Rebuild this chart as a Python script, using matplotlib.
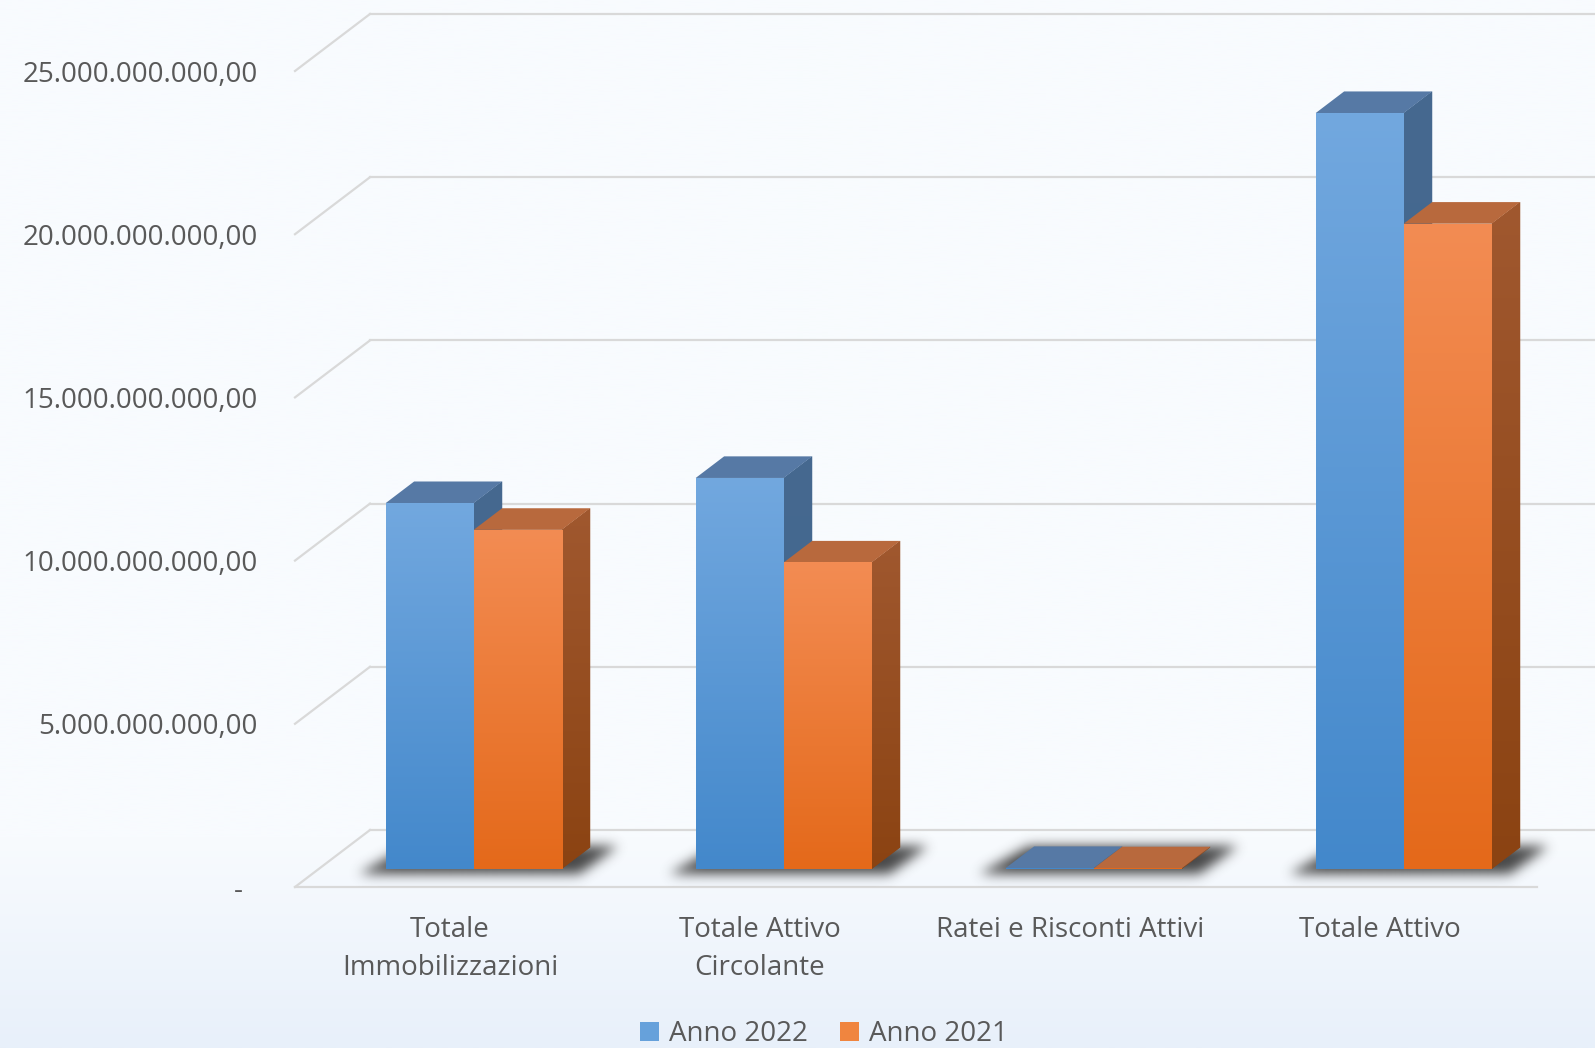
import numpy as np
import matplotlib
matplotlib.use('Agg')
import matplotlib.pyplot as plt
from matplotlib.patches import Polygon, Patch
from matplotlib.path import Path
from matplotlib.ticker import FuncFormatter
from matplotlib.colors import to_rgb

plt.rcParams['font.family'] = ['Open Sans', 'DejaVu Sans']

# data
categories = ['Totale\nImmobilizzazioni', 'Totale Attivo\nCircolante',
              'Ratei e Risconti Attivi', 'Totale Attivo']
anno_2022 = [11.21e9, 11.98e9, 0.03e9, 23.16e9]
anno_2021 = [10.39e9, 9.39e9, 0.02e9, 19.77e9]
series_labels = ['Anno 2022', 'Anno 2021']
yticks = [0, 5e9, 10e9, 15e9, 20e9, 25e9]

TEXT = '#595959'
GRID = '#D9D9D9'

# geometry of the fake 3d (pixels -> data units)
PX_X = 310.0            # px per category
PX_Y = 32.64 / 1e9      # px per unit value
DX = 75 / PX_X          # full depth offset
DY = 57 / PX_Y
T0, T1 = 0.316, 0.695   # bar depth range
W = 88 / PX_X           # bar width

fig = plt.figure(figsize=(15.95, 10.48), dpi=100)

# background gradient
bg = fig.add_axes([0, 0, 1, 1], zorder=-10)
rows = np.linspace(0, 1, 400)
top_c = np.array(to_rgb('#F8FBFE'))
bot_c = np.array(to_rgb('#E8F0FA'))
f = np.clip((rows - 0.80) / 0.20, 0, 1)[:, None]
grad = top_c * (1 - f) + bot_c * f
bg.imshow(grad[:, None, :], aspect='auto', extent=[0, 1, 0, 1], origin='upper')
bg.axis('off')

ax = fig.add_axes([295 / 1595, (1048 - 887) / 1048, 1300 / 1595, 887 / 1048])
ax.set_facecolor('none')
xlim = (-0.5, -0.5 + 1300 / PX_X)
ylim = (0, 887 / PX_Y)

# walls / grid
for v in yticks:
    ax.plot([-0.5 + DX, xlim[1] + 0.1], [v + DY, v + DY], color=GRID, lw=1.6, zorder=1, clip_on=False)
    ax.plot([-0.5, -0.5 + DX], [v, v + DY], color=GRID, lw=1.6, zorder=1, clip_on=False)
ax.plot([-0.5, 3.506], [0, 0], color=GRID, lw=1.6, zorder=1, clip_on=False)


def blur(a, s):
    k = np.arange(-3 * s, 3 * s + 1)
    ker = np.exp(-0.5 * (k / s) ** 2)
    ker /= ker.sum()
    a = np.apply_along_axis(lambda r: np.convolve(r, ker, mode='same'), 0, a)
    a = np.apply_along_axis(lambda r: np.convolve(r, ker, mode='same'), 1, a)
    return a


def shadow(c, z):
    # soft shadow on the floor under each pair of bars
    ex = 28 / PX_X
    poly = [(c + T0 * DX - W - ex, (T0 - 0.1) * DY),
            (c + T0 * DX + W + ex * 0.6, (T0 - 0.1) * DY),
            (c + T1 * DX + W + ex, (T1 + 0.03) * DY),
            (c + T1 * DX - W - ex * 0.2, (T1 + 0.03) * DY)]
    x0 = c - 0.55
    x1 = c + 0.75
    y0 = 0.0
    y1 = 70 / PX_Y
    nx = int((x1 - x0) * PX_X)
    ny = int((y1 - y0) * PX_Y)
    gx = np.linspace(x0, x1, nx)
    gy = np.linspace(y0, y1, ny)
    XX, YY = np.meshgrid(gx, gy)
    inside = Path(poly).contains_points(np.c_[XX.ravel(), YY.ravel()]).reshape(ny, nx)
    a = blur(inside.astype(float), 6)
    img = np.zeros((ny, nx, 4))
    img[..., :3] = 0.2
    img[..., 3] = np.clip(a * 0.9, 0, 1)
    ax.imshow(img, extent=[x0, x1, y0, y1], origin='lower', aspect='auto',
              zorder=z, interpolation='bilinear')


def grad_fill(patch, x0, x1, y0, y1, c_top, c_bot, z):
    t = np.linspace(0, 1, 256)[:, None]
    g = np.array(to_rgb(c_bot)) * (1 - t) + np.array(to_rgb(c_top)) * t
    im = ax.imshow(g[:, None, :], extent=[x0, x1, y0, y1], origin='lower',
                   aspect='auto', zorder=z, interpolation='bilinear')
    im.set_clip_path(patch)


def box(xl, val, cols, z):
    front_top, front_bot, top_col, side_top, side_bot = cols
    y0 = T0 * DY
    ddx = (T1 - T0) * DX
    ddy = (T1 - T0) * DY
    # side
    side = Polygon([(xl + W, y0), (xl + W + ddx, y0 + ddy), (xl + W + ddx, y0 + ddy + val), (xl + W, y0 + val)],
                   closed=True, facecolor=side_bot, edgecolor='none', zorder=z)
    ax.add_patch(side)
    grad_fill(side, xl + W, xl + W + ddx, y0, y0 + ddy + val, side_top, side_bot, z + 0.1)
    # top
    top = Polygon([(xl, y0 + val), (xl + W, y0 + val), (xl + W + ddx, y0 + val + ddy), (xl + ddx, y0 + val + ddy)],
                  closed=True, facecolor=top_col, edgecolor='none', zorder=z + 0.2)
    ax.add_patch(top)
    # front
    bars = ax.bar(xl, val, width=W, bottom=y0, align='edge', color=front_bot, zorder=z + 0.3, linewidth=0)
    if val > 0.2e9:
        grad_fill(bars[0], xl, xl + W, y0, y0 + val, front_top, front_bot, z + 0.4)


blue_cols = ('#72A8DF', '#4388CB', '#5679A5', '#46698F', '#3F6790')
orange_cols = ('#F38C53', '#E4691A', '#B8693D', '#A0582F', '#8B4312')

for i in range(len(categories)):
    z = 3 + i * 2
    shadow(i, 2)
    xl = i + T0 * DX - W
    box(xl, anno_2022[i], blue_cols, z)
    box(xl + W, anno_2021[i], orange_cols, z + 1)

ax.set_xlim(*xlim)
ax.set_ylim(*ylim)


def it_fmt(v, pos):
    if v == 0:
        return '-  '
    s = f'{v:,.2f}'
    return s.replace(',', '_').replace('.', ',').replace('_', '.')


ax.set_yticks(yticks)
ax.yaxis.set_major_formatter(FuncFormatter(it_fmt))
ax.set_xticks(range(len(categories)))
ax.set_xticklabels(categories, linespacing=1.45)
ax.tick_params(axis='y', length=0, pad=27, labelsize=20, labelcolor=TEXT)
ax.tick_params(axis='x', length=0, pad=21, labelsize=20, labelcolor=TEXT)
for sp in ax.spines.values():
    sp.set_visible(False)

handles = [Patch(facecolor='#66A1DB', label=series_labels[0]),
           Patch(facecolor='#F0853F', label=series_labels[1])]
fig.legend(handles=handles, loc='center', bbox_to_anchor=(824 / 1595, 14 / 1048), ncol=2,
           frameon=False, fontsize=20, labelcolor=TEXT, handlelength=0.68, handleheight=0.68,
           handletextpad=0.36, columnspacing=1.15, borderpad=0)

fig.savefig('out.png', dpi=100)
